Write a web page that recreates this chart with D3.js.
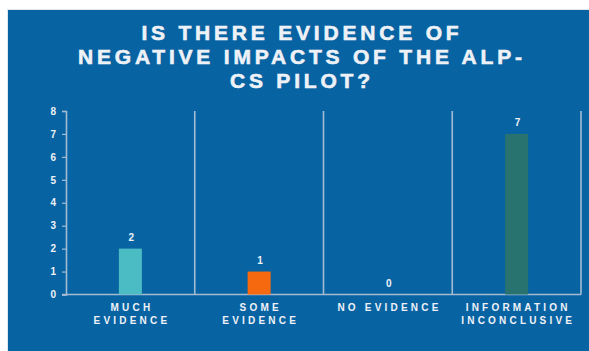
<!DOCTYPE html>
<html>
<head>
<meta charset="utf-8">
<script src="https://cdn.jsdelivr.net/npm/d3@7"></script>
<style>
  html, body { margin: 0; padding: 0; background: #ffffff; }
  svg { display: block; }
</style>
</head>
<body>
<svg id="chart" width="589" height="351"></svg>
<script>
// Survey answers: how many respondents chose each option
const categories = [["MUCH", "EVIDENCE"], ["SOME", "EVIDENCE"], ["NO EVIDENCE"], ["INFORMATION", "INCONCLUSIVE"]];
const values = [2, 1, 0, 7];
const barColors = ["#4bbcc4", "#f7690f", "#0863a3", "#287270"];
const yTicks = [0, 1, 2, 3, 4, 5, 6, 7, 8];
const titleLines = ["IS THERE EVIDENCE OF", "NEGATIVE IMPACTS OF THE ALP-", "CS PILOT?"];

const W = 589, H = 351;
const panelBg = "#0863a3";
const textColor = "#eef2f7";
const lineColor = "#a3bcd4";
const font = "'Liberation Sans', Arial, sans-serif";

const svg = d3.select("#chart");

// Blue panel with a faint light frame on its top and left
svg.append("rect").attr("x", 7).attr("y", 9).attr("width", W - 7).attr("height", H - 9)
  .attr("fill", "#dfe7ef");
svg.append("rect").attr("x", 8).attr("y", 10).attr("width", W - 8).attr("height", H - 10)
  .attr("fill", panelBg);

// Title (slightly stroked for a heavier look)
const titleSpacing = 3.8;
svg.append("g").selectAll("text").data(titleLines).join("text")
  .attr("x", 300 + titleSpacing / 2)
  .attr("y", (d, i) => 40 + i * 24)
  .attr("text-anchor", "middle")
  .attr("font-family", font)
  .attr("font-weight", "bold")
  .attr("font-size", 21)
  .attr("letter-spacing", titleSpacing)
  .attr("fill", textColor)
  .attr("stroke", textColor)
  .attr("stroke-width", 0.6)
  .text(d => d);

// Scales
const keys = categories.map(c => c.join(" "));
const x = d3.scaleBand().domain(keys).range([66, 581]).padding(0);
const y = d3.scaleLinear().domain([0, 8]).range([294.5, 111]);
const barW = 23;

// Vertical separators at the right edge of every category band
svg.append("g").selectAll("line").data(keys).join("line")
  .attr("x1", d => x(d) + x.bandwidth()).attr("x2", d => x(d) + x.bandwidth())
  .attr("y1", y(8)).attr("y2", y(0))
  .attr("stroke", lineColor).attr("stroke-width", 1.6);

// Y axis
const yAxis = svg.append("g")
  .attr("transform", "translate(66,0)")
  .call(d3.axisLeft(y).tickValues(yTicks).tickSize(4).tickPadding(6).tickFormat(d3.format("d")));
yAxis.select(".domain").attr("stroke", lineColor).attr("stroke-width", 1.6);
yAxis.selectAll(".tick line").attr("stroke", lineColor).attr("stroke-width", 1.2);
yAxis.selectAll(".tick text")
  .attr("fill", textColor)
  .attr("font-family", font)
  .attr("font-weight", "bold")
  .attr("font-size", 10);

// Baseline
svg.append("line")
  .attr("x1", 62).attr("x2", 581)
  .attr("y1", y(0)).attr("y2", y(0))
  .attr("stroke", lineColor).attr("stroke-width", 1.6);

// Bars
const barData = keys.map((k, i) => ({ key: k, value: values[i], color: barColors[i] }));
svg.append("g").selectAll("rect").data(barData).join("rect")
  .attr("x", d => x(d.key) + x.bandwidth() / 2 - barW / 2)
  .attr("width", barW)
  .attr("y", d => y(d.value))
  .attr("height", d => y(0) - y(d.value))
  .attr("fill", d => d.color);

// Value labels above the bars
svg.append("g").selectAll("text").data(barData).join("text")
  .attr("x", d => x(d.key) + x.bandwidth() / 2 + 1)
  .attr("y", d => y(d.value) - 8)
  .attr("text-anchor", "middle")
  .attr("font-family", font)
  .attr("font-weight", "bold")
  .attr("font-size", 10)
  .attr("fill", textColor)
  .text(d => d.value);

// Category labels
const catSpacing = 3.2;
const catG = svg.append("g");
categories.forEach((lines, i) => {
  const cx = x(keys[i]) + x.bandwidth() / 2 + catSpacing / 2;
  const t = catG.append("text")
    .attr("text-anchor", "middle")
    .attr("font-family", font)
    .attr("font-weight", "bold")
    .attr("font-size", 10)
    .attr("letter-spacing", catSpacing)
    .attr("fill", textColor);
  lines.forEach((ln, j) => {
    t.append("tspan").attr("x", cx).attr("y", 311 + j * 12.5).text(ln);
  });
});
</script>
</body>
</html>
